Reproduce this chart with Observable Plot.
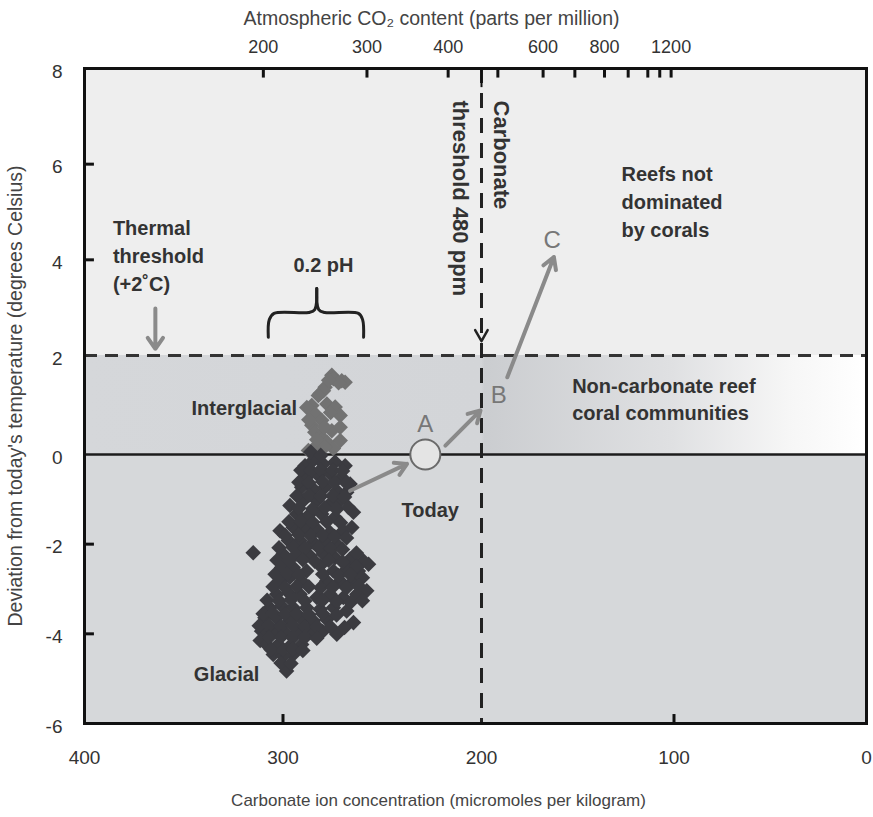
<!DOCTYPE html>
<html><head><meta charset="utf-8">
<script src="https://cdn.jsdelivr.net/npm/d3@7"></script>
<script src="https://cdn.jsdelivr.net/npm/@observablehq/plot@0.6"></script>
<style>html,body{margin:0;padding:0;background:#fff;} svg{display:block}</style>
</head><body><div id="chart"></div>
<script>
// ---- axis values ----
const carbonateTicks = [400, 300, 200, 100, 0];
const temperatureTicks = [8, 6, 4, 2, 0, -2, -4, -6];
const innerTemperatureTicks = [6, 4, -2, -4];
const innerCarbonateTicks = [300, 100];
const co2TickValues = [200, 300, 400, 500, 600, 700, 800, 900, 1000, 1100, 1200];
const co2TickCarbonate = [309.9, 257.7, 216.8, 191.5, 168, 151.5, 136.1, 123.8, 113.6, 107.4, 101.5];
const co2LabelValues = [200, 300, 400, 600, 800, 1200];
const co2Threshold = 480, co2ThresholdCarbonate = 200;
const thermalThreshold = 2;

// ---- ice-core points (carbonate ion, temperature anomaly) ----
const interglacialCarbonate = [275.4,270.4,278.8,281.3,285.5,277.9,273.7,283.8,271.2,280.5,285.5,275.4,271.2,281.3,271.2,277.9,283.0,274.6,287.2,288.0,287.0,274.6,268.7,279.6,282.2,
 284.0,279.0,283.0,276.0,279.0,272.0,277.0];
const interglacialTemperature = [1.60,1.49,1.36,1.23,0.99,1.02,0.96,0.82,0.79,0.69,0.59,0.48,0.55,0.38,0.28,0.25,0.18,0.12,0.08,0.95,0.70,1.53,1.46,1.29,1.19,
 0.45,0.55,0.30,0.85,0.15,1.45,1.50];

const glacialCarbonate = [
 288.9,284.7,279.7,273.8,268.7,
 288.1,282.2,276.3,270.4,266.2,
 290.6,284.7,278.8,272.9,267.9,
 296.5,289.8,283.0,276.3,271.2,264.5,
 293.1,287.2,280.5,273.8,265.3,
 301.5,294.8,288.9,283.0,276.3,269.6,
 315.0,
 297.3,291.4,284.7,278.8,272.9,
 299.9,293.1,286.4,279.7,273.8,266.2,259.5,256.9,
 300.7,294.8,288.1,281.3,274.6,267.9,262.0,
 301.5,296.5,290.6,278.0,271.2,264.5,257.8,
 303.2,297.3,291.4,283.0,276.3,269.6,262.8,
 306.6,300.7,294.8,288.1,281.3,274.6,267.9,
 309.1,303.2,296.5,290.6,284.7,278.0,264.5,
 310.8,304.9,299.0,292.3,286.4,272.9,280.0,
 311.5,308.3,302.4,296.5,290.6,
 304.9,299.9,294.8,
 298.2,
 286.0,281.0,
 // points hidden inside the dense mass
 291,286,281,275,270,
 292,287,280,274,268,
 293,287,281,275,269,
 292,285,279,273,267,
 297,291,285,278,271,
 299,292,286,280,274,268,
 302,295,289,282,276,270,263,
 303,297,290,284,277,270,263,
 304,298,292,280,272,266,260,
 305,299,293,287,281,275,268,262,
 308,302,296,289,280,273,266,260,
 310,305,299,293,287,280,273,
 312,307,301,295,289,283,276,269,
 307,301,295,289,283,
 306,300,295,290,
 301,296];
const glacialTemperature = [
 -0.25,-0.13,-0.21,-0.17,-0.25,
 -0.51,-0.47,-0.43,-0.51,-0.66,
 -0.73,-0.77,-0.73,-0.81,-0.84,
 -1.14,-1.03,-1.03,-1.10,-1.03,-1.29,
 -1.33,-1.36,-1.33,-1.40,-1.63,
 -1.70,-1.63,-1.63,-1.66,-1.74,-1.70,
 -2.19,
 -1.92,-1.92,-1.96,-1.92,-2.00,
 -2.22,-2.22,-2.26,-2.22,-2.30,-2.33,-2.37,-2.45,
 -2.52,-2.52,-2.60,-2.48,-2.60,-2.56,-2.60,
 -2.82,-2.74,-2.82,-2.82,-2.82,-2.82,-3.04,
 -3.12,-3.08,-3.12,-3.19,-3.12,-3.19,-3.12,
 -3.42,-3.38,-3.42,-3.42,-3.45,-3.42,-3.49,
 -3.64,-3.64,-3.71,-3.68,-3.71,-3.68,-3.75,
 -3.94,-3.94,-3.97,-3.94,-3.97,-4.01,-3.95,
 -4.15,-4.24,-4.24,-4.27,-4.24,
 -4.46,-4.50,-4.46,
 -4.83,
 0.05,-0.02,
 -0.35,-0.36,-0.34,-0.35,-0.37,
 -0.62,-0.63,-0.61,-0.62,-0.64,
 -0.92,-0.91,-0.93,-0.92,-0.95,
 -1.20,-1.21,-1.19,-1.22,-1.18,
 -1.50,-1.49,-1.51,-1.50,-1.52,
 -1.80,-1.79,-1.81,-1.80,-1.83,-1.86,
 -2.08,-2.07,-2.09,-2.08,-2.10,-2.12,-2.20,
 -2.36,-2.37,-2.35,-2.38,-2.36,-2.40,-2.50,
 -2.67,-2.66,-2.68,-2.67,-2.70,-2.69,-2.75,
 -2.95,-2.96,-2.94,-2.95,-2.97,-2.96,-2.98,-2.93,
 -3.25,-3.26,-3.24,-3.27,-3.25,-3.28,-3.30,-3.26,
 -3.55,-3.54,-3.56,-3.55,-3.57,-3.55,-3.58,
 -3.82,-3.81,-3.83,-3.82,-3.84,-3.83,-3.85,-3.86,
 -4.08,-4.07,-4.09,-4.08,-4.10,
 -4.35,-4.36,-4.34,-4.37,
 -4.65,-4.66];

// ---- scenario points ----
const today = {carbonate: 228.3, temperature: 0};
const pathwayFromCarbonate = [266.2, 218.2, 186.6];
const pathwayFromTemperature = [-0.81, 0.18, 1.56];
const pathwayToCarbonate = [237.5, 200.5, 162.4];
const pathwayToTemperature = [-0.21, 0.89, 4.06];

// ---- brace over 0.2 pH ----
const braceCarbonate = [307.4,306.9,304.5,287.0,284.0,283.0, 283.0,282.0,279.0,262.0,259.9,259.4];
const braceTemperature = [2.38,2.75,2.88,2.90,2.96,3.40, 3.40,2.96,2.90,2.88,2.75,2.38];
const braceSide = ["L","L","L","L","L","L","R","R","R","R","R","R"];

// ---- arrowhead on the carbonate threshold line ----
const thresholdHeadCarbonate = [203.2, 200, 196.8];
const thresholdHeadTemperature = [2.53, 2.30, 2.53];

// the printed axes are slightly non-uniform; these piecewise maps reproduce them
const xWarp = d3.scaleLinear().domain([400, 200, 0]).range([400, 196.93, 0]);
const yWarp = d3.scaleLinear().domain([-6, 0, 2, 8]).range([-6, -0.25, 1.866, 8]);

const F = "'Liberation Sans', Arial, Helvetica, sans-serif";
const LABEL = "#333";
const ARROW = "#8a8a8a";

const inter = interglacialCarbonate.map((x, i) => ({x, y: interglacialTemperature[i]}));
const glac = glacialCarbonate.map((x, i) => ({x, y: glacialTemperature[i]}));
const paths = pathwayFromCarbonate.map((x1, i) => ({x1, y1: pathwayFromTemperature[i], x2: pathwayToCarbonate[i], y2: pathwayToTemperature[i]}));
const brace = braceCarbonate.map((x, i) => ({x, y: braceTemperature[i], z: braceSide[i]}));
const thresholdHead = thresholdHeadCarbonate.map((x, i) => ({x, y: thresholdHeadTemperature[i]}));
const co2Ticks = co2TickValues.map((v, i) => ({v, x: co2TickCarbonate[i]}));
const co2Labels = co2Ticks.filter(d => co2LabelValues.includes(d.v));

const chart = Plot.plot({
  width: 873, height: 817,
  marginLeft: 84, marginRight: 7, marginTop: 68, marginBottom: 94,
  style: {fontFamily: F, background: "white", overflow: "visible"},
  x: {type: "linear", transform: xWarp, domain: [400, 0], range: [84, 866], axis: null},
  y: {type: "linear", transform: yWarp, domain: [-6, 8], range: [723, 68], axis: null},
  marks: [
    Plot.rect([0], {x1: 400, x2: 0, y1: thermalThreshold, y2: 8, fill: "#eeeeee"}),
    Plot.rect([0], {x1: 400, x2: 0, y1: 0, y2: thermalThreshold, fill: "url(#midband)"}),
    Plot.rect([0], {x1: 400, x2: 0, y1: -6, y2: 0, fill: "#d6d8da"}),
    Plot.ruleY([0], {stroke: "#1c1c1c", strokeWidth: 2.5}),
    Plot.ruleY([thermalThreshold], {stroke: "#333", strokeWidth: 3, strokeDasharray: "13,8"}),
    Plot.ruleX([co2ThresholdCarbonate], {stroke: "#222", strokeWidth: 3, strokeDasharray: "15,10"}),
    Plot.line(thresholdHead, {x: "x", y: "y", stroke: "#222", strokeWidth: 2.5}),
    Plot.dot(inter, {x: "x", y: "y", symbol: "square", rotate: 45, r: 6.2, fill: "#727272"}),
    Plot.dot(glac, {x: "x", y: "y", symbol: "square", rotate: 45, r: 6.2, fill: "#3b3b40"}),
    Plot.dot([today], {x: "carbonate", y: "temperature", r: 15, fill: "#e4e4e4", stroke: "#6a6a6a", strokeWidth: 2}),
    Plot.arrow(paths, {x1: "x1", y1: "y1", x2: "x2", y2: "y2", stroke: ARROW, strokeWidth: 4, headLength: 5, headAngle: 60}),
    Plot.arrow([0], {x1: 364.3, y1: 2.98, x2: 364.3, y2: 2.14, stroke: ARROW, strokeWidth: 4, headLength: 5, headAngle: 70}),
    Plot.line(brace, {x: "x", y: "y", z: "z", curve: "catmull-rom", stroke: "#222", strokeWidth: 3}),
    // point labels
    Plot.text([0], {x: 228.3, y: 0.61, text: ["A"], fontSize: 24, fill: "#777"}),
    Plot.text([0], {x: 191, y: 1.19, text: ["B"], fontSize: 24, fill: "#777"}),
    Plot.text([0], {x: 163.3, y: 4.41, text: ["C"], fontSize: 24, fill: "#777"}),
    Plot.text([0], {x: 225.8, y: -1.25, text: ["Today"], fontSize: 20, fontWeight: "bold", fill: LABEL}),
    Plot.text([0], {x: 292.9, y: 0.93, text: ["Interglacial"], textAnchor: "end", fontSize: 20, fontWeight: "bold", fill: LABEL}),
    Plot.text([0], {x: 328.4, y: -4.91, text: ["Glacial"], fontSize: 20, fontWeight: "bold", fill: LABEL}),
    Plot.text([0], {x: 279.6, y: 3.88, text: ["0.2 pH"], fontSize: 20, fontWeight: "bold", fill: LABEL}),
    Plot.text([0], {x: 385.7, y: 4.13, text: ["Thermal\nthreshold\n(+2˚C)"], textAnchor: "start", lineHeight: 1.4, fontSize: 20, fontWeight: "bold", fill: LABEL}),
    Plot.text([0], {x: 127.3, y: 5.24, text: ["Reefs not\ndominated\nby corals"], textAnchor: "start", lineHeight: 1.4, fontSize: 20, fontWeight: "bold", fill: LABEL}),
    Plot.text([0], {x: 152.9, y: 1.14, text: ["Non-carbonate reef\ncoral communities"], textAnchor: "start", lineHeight: 1.35, fontSize: 20, fontWeight: "bold", fill: LABEL}),
    Plot.text([0], {x: 190.1, y: 7.33, text: ["Carbonate"], rotate: 90, textAnchor: "start", fontSize: 22, fontWeight: "bold", fill: LABEL}),
    Plot.text([0], {x: 210.6, y: 7.33, text: [`threshold ${co2Threshold} ppm`], rotate: 90, textAnchor: "start", fontSize: 22, fontWeight: "bold", fill: LABEL}),
    // frame and ticks
    Plot.frame({stroke: "#111", strokeWidth: 3}),
    Plot.ruleX(innerCarbonateTicks, {x: d => d, y1: -6, y2: -5.8, stroke: "#111", strokeWidth: 3}),
    Plot.ruleY(innerTemperatureTicks, {y: d => d, x1: 400, x2: 395, stroke: "#111", strokeWidth: 3}),
    Plot.ruleX(co2Ticks, {x: "x", y1: 8, y2: 7.8, stroke: "#111", strokeWidth: 3}),
    Plot.ruleX([co2ThresholdCarbonate], {y1: 8, y2: 7.6, stroke: "#111", strokeWidth: 2}),
    Plot.text(carbonateTicks, {x: d => d, y: -6, dy: 34, text: d => String(d), fontSize: 19, fill: LABEL}),
    Plot.text(temperatureTicks, {x: 400, y: d => d, dx: -22, dy: 3, textAnchor: "end", text: d => String(d), fontSize: 19, fill: LABEL}),
    Plot.text(co2Labels, {x: "x", y: 8, dy: -21, text: d => String(d.v), fontSize: 18, fill: LABEL}),
    Plot.text(["Atmospheric CO₂ content (parts per million)"], {frameAnchor: "top", textAnchor: "middle", lineAnchor: "middle", dx: -44, dy: -50, text: d => d, fontSize: 19.5, fill: "#444"}),
    Plot.text(["Carbonate ion concentration (micromoles per kilogram)"], {frameAnchor: "bottom", textAnchor: "middle", lineAnchor: "middle", dx: -37, dy: 77, text: d => d, fontSize: 17, fill: "#444"}),
    Plot.text(["Deviation from today's temperature (degrees Celsius)"], {frameAnchor: "left", textAnchor: "middle", lineAnchor: "middle", dx: -69, rotate: -90, text: d => d, fontSize: 19.5, fill: "#444"})
  ]
});

const ns = "http://www.w3.org/2000/svg";
const defs = document.createElementNS(ns, "defs");
defs.innerHTML = `<linearGradient id="midband" x1="0" x2="1" y1="0" y2="0">
<stop offset="0" stop-color="#d5d7da"/><stop offset="0.508" stop-color="#d3d5d8"/>
<stop offset="0.512" stop-color="#cbcdd0"/><stop offset="0.75" stop-color="#dfe0e2"/>
<stop offset="0.9" stop-color="#f6f6f6"/><stop offset="1" stop-color="#ffffff"/></linearGradient>`;
chart.insertBefore(defs, chart.firstChild);
document.getElementById("chart").appendChild(chart);
</script></body></html>
